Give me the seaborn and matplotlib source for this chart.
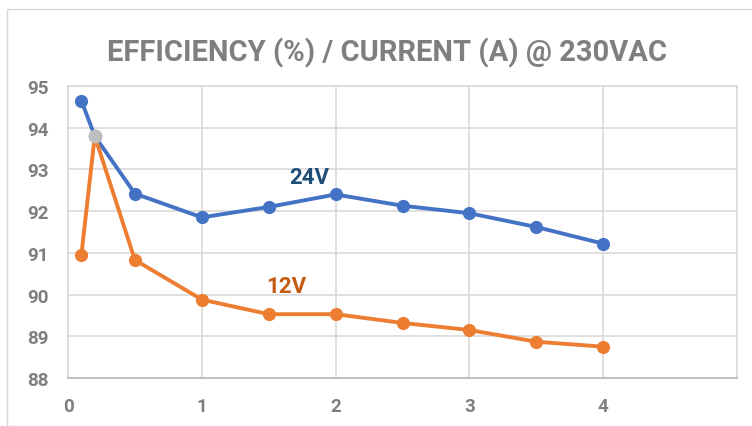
import matplotlib
matplotlib.use("Agg")
import matplotlib.pyplot as plt
import seaborn as sns
import pandas as pd
from matplotlib.patches import Rectangle

current = [0.1, 0.2, 0.5, 1, 1.5, 2, 2.5, 3, 3.5, 4]
eff_24v = [94.65, 93.8, 92.42, 91.85, 92.1, 92.4, 92.13, 91.95, 91.62, 91.22]
eff_12v = [90.95, 93.8, 90.83, 89.88, 89.53, 89.53, 89.32, 89.15, 88.87, 88.75]
series_names = ["24V", "12V"]
title = "EFFICIENCY (%) / CURRENT (A) @ 230VAC"
xticks = [0, 1, 2, 3, 4]
yticks = [88, 89, 90, 91, 92, 93, 94, 95]

df = pd.DataFrame({
    "current": current * 2,
    "eff": eff_24v + eff_12v,
    "series": [series_names[0]] * len(current) + [series_names[1]] * len(current),
})

sns.set_style("white")
plt.rcParams['font.family'] = ['Roboto', 'DejaVu Sans']

fig = plt.figure(figsize=(7.52, 4.27), dpi=100)
ax = fig.add_axes([68/752, 1-379/427, (737-68)/752, (379-87)/427])

palette = {"24V": "#4472C4", "12V": "#ED7D31"}
sns.lineplot(data=df, x="current", y="eff", hue="series", palette=palette,
             hue_order=["24V", "12V"], marker="o", markersize=9.5, linewidth=2.8,
             markeredgewidth=0, legend=False, ax=ax, sort=False)
# highlighted overlapping point
sns.scatterplot(x=[current[1]], y=[eff_12v[1]], color="#BFBFBF", s=100,
                linewidth=0, ax=ax, zorder=5)

ax.set_xlim(0, 5)
ax.set_ylim(88, 95)
ax.set_xticks(xticks)
ax.set_yticks(yticks)
ax.grid(True, color="#D9D9D9", linewidth=1.2)
ax.set_axisbelow(True)
for s in ["top", "right", "left"]:
    ax.spines[s].set_color("#D9D9D9")
    ax.spines[s].set_linewidth(1.2)
ax.spines["bottom"].set_color("#BFBFBF")
ax.spines["bottom"].set_linewidth(1.4)
ax.set_xlabel("")
ax.set_ylabel("")
ax.tick_params(axis="both", length=0, labelsize=13.5, labelcolor="#7F7F7F")
ax.tick_params(axis="y", pad=14)
ax.tick_params(axis="x", pad=14)
for lbl in ax.get_xticklabels() + ax.get_yticklabels():
    lbl.set_fontweight("bold")

ax.text(1.95, 92.55, "24V", ha="right", va="bottom", fontsize=16,
        fontweight="bold", color="#1F4E79")
ax.text(1.78, 89.95, "12V", ha="right", va="bottom", fontsize=16,
        fontweight="bold", color="#C55A11")

fig.text(0.515, 1-53/427, title, ha="center", va="center", fontsize=21,
         fontweight="bold", color="#7F7F7F")

fig.patches.append(Rectangle((7/752, 0), 1, 1-10/427, transform=fig.transFigure,
                             fill=False, edgecolor="#D9D9D9", linewidth=1))

fig.savefig("out.png", dpi=100)
